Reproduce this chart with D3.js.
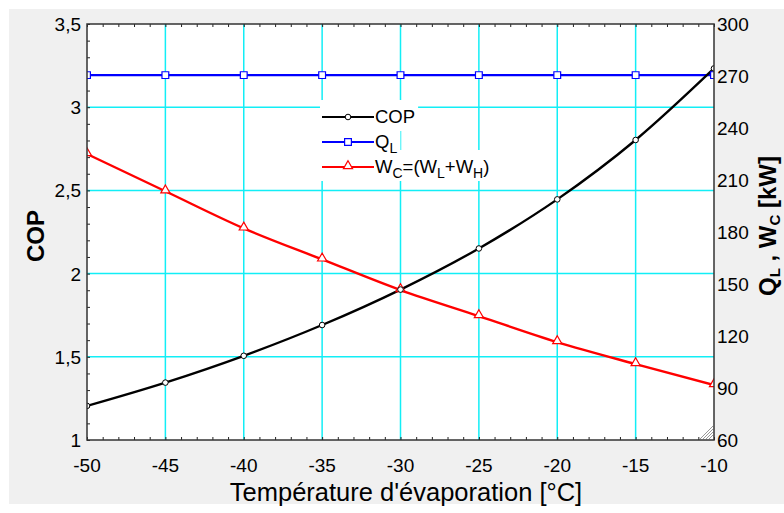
<!DOCTYPE html>
<html>
<head>
<meta charset="utf-8">
<script src="https://cdn.jsdelivr.net/npm/d3@7"></script>
<style>
  body { margin: 0; background: #fff; }
  text { font-family: Arial, "Liberation Sans", sans-serif; fill: #000; }
</style>
</head>
<body>
<div id="canvas"></div>
<script>
// data
var temps = [-50, -45, -40, -35, -30, -25, -20, -15, -10];
var cop = [1.205, 1.345, 1.506, 1.691, 1.904, 2.151, 2.446, 2.803, 3.233];
var qL = [270.5, 270.5, 270.5, 270.5, 270.5, 270.5, 270.5, 270.5, 270.5];
var wC = [225, 203.5, 182.1, 164.2, 146.5, 131.5, 116.5, 103.8, 91.7];

var xTicks = [-50, -45, -40, -35, -30, -25, -20, -15, -10];
var copTicks = [1, 1.5, 2, 2.5, 3, 3.5];
var kwTicks = [60, 90, 120, 150, 180, 210, 240, 270, 300];

var W = 784, H = 513;
var plot = {left: 87, right: 714, top: 24, bottom: 440};

var svg = d3.select("#canvas").append("svg")
  .attr("width", W)
  .attr("height", H);

// grey window background
svg.append("rect")
  .attr("x", 9).attr("y", 9)
  .attr("width", W - 9).attr("height", 495)
  .attr("fill", "#f0f0f0");

svg.append("rect")
  .attr("x", plot.left).attr("y", plot.top)
  .attr("width", plot.right - plot.left)
  .attr("height", plot.bottom - plot.top)
  .attr("fill", "#fff");

var x = d3.scaleLinear().domain([-50, -10]).range([plot.left, plot.right]);
var yL = d3.scaleLinear().domain([1, 3.5]).range([plot.bottom, plot.top]);
var yR = d3.scaleLinear().domain([60, 300]).range([plot.bottom, plot.top]);

var grid = "#12eef6";

// grid lines
svg.append("g").selectAll("line")
  .data(xTicks.slice(1, -1))
  .enter().append("line")
  .attr("x1", d => x(d)).attr("x2", d => x(d))
  .attr("y1", plot.top).attr("y2", plot.bottom)
  .attr("stroke", grid).attr("stroke-width", 1.5);

svg.append("g").selectAll("line")
  .data(copTicks.slice(1, -1))
  .enter().append("line")
  .attr("x1", plot.left).attr("x2", plot.right)
  .attr("y1", d => yL(d)).attr("y2", d => yL(d))
  .attr("stroke", grid).attr("stroke-width", 1.5);

// legend: white boxes hide the grid behind each entry
var legend = [
  {name: "COP", color: "#000", y: 117},
  {name: "QL", color: "#0000ff", y: 142},
  {name: "WC", color: "#ff0000", y: 167}
];

var legendText = function (sel, key) {
  var sub = function (s) {
    sel.append("tspan").attr("dy", 5).attr("font-size", 14).text(s);
  };
  var up = function (s) {
    sel.append("tspan").attr("dy", -5).text(s);
  };
  if (key == "COP") {
    sel.append("tspan").text("COP");
  } else if (key == "QL") {
    sel.append("tspan").text("Q");
    sub("L");
  } else {
    sel.append("tspan").text("W");
    sub("C"); up("=(W"); sub("L"); up("+W"); sub("H"); up(")");
  }
};

var lgBoxes = svg.append("g");
var lg = svg.append("g");

legend.forEach(function (d) {
  lg.append("line")
    .attr("x1", 322).attr("x2", 374)
    .attr("y1", d.y).attr("y2", d.y)
    .attr("stroke", d.color).attr("stroke-width", 2);
  var t = lg.append("text")
    .attr("x", 375).attr("y", d.y + 6)
    .attr("font-size", 18.5);
  legendText(t, d.name);
  var bb = t.node().getBBox();
  lgBoxes.append("rect").attr("fill", "#fff")
    .attr("x", 320).attr("y", d.y - 17)
    .attr("width", bb.x + bb.width - 320 + 3)
    .attr("height", 31);
});

// minor ticks on frame, pointing inward
svg.append("g")
  .attr("transform", "translate(0," + plot.bottom + ")")
  .call(d3.axisBottom(x).tickValues(d3.range(-50, -9, 1)).tickSize(-3).tickFormat(""))
  .call(g => g.select(".domain").remove());
svg.append("g")
  .attr("transform", "translate(0," + plot.top + ")")
  .call(d3.axisTop(x).tickValues(d3.range(-50, -9, 1)).tickSize(-3).tickFormat(""))
  .call(g => g.select(".domain").remove());
svg.append("g")
  .attr("transform", "translate(" + plot.left + ",0)")
  .call(d3.axisLeft(yL).tickValues(d3.range(10, 36).map(v => v / 10)).tickSize(-3).tickFormat(""))
  .call(g => g.select(".domain").remove());
svg.selectAll(".tick line").attr("stroke", "#222");

// curves
svg.append("clipPath").attr("id", "clip")
  .append("rect")
  .attr("x", plot.left).attr("y", plot.top)
  .attr("width", plot.right - plot.left)
  .attr("height", plot.bottom - plot.top);

var pg = svg.append("g").attr("clip-path", "url(#clip)");

var lineCop = d3.line().x((d, i) => x(temps[i])).y(d => yL(d)).curve(d3.curveMonotoneX);
var lineKw = d3.line().x((d, i) => x(temps[i])).y(d => yR(d)).curve(d3.curveMonotoneX);

pg.append("path").attr("d", lineKw(qL)).attr("fill", "none").attr("stroke", "#0000ff").attr("stroke-width", 2.4);
pg.append("path").attr("d", lineKw(wC)).attr("fill", "none").attr("stroke", "#ff0000").attr("stroke-width", 2.4);
pg.append("path").attr("d", lineCop(cop)).attr("fill", "none").attr("stroke", "#000").attr("stroke-width", 2.4);

var square = d3.symbol().type(d3.symbolSquare).size(46);
var tri = d3.symbol().type(d3.symbolTriangle).size(36);

pg.selectAll(".mq").data(qL).enter().append("path")
  .attr("d", square)
  .attr("transform", (d, i) => "translate(" + x(temps[i]) + "," + yR(d) + ")")
  .attr("fill", "#fff").attr("stroke", "#0000ff").attr("stroke-width", 1.2);
pg.selectAll(".mw").data(wC).enter().append("path")
  .attr("d", tri)
  .attr("transform", (d, i) => "translate(" + x(temps[i]) + "," + (yR(d) - 1) + ")")
  .attr("fill", "#fff").attr("stroke", "#ff0000").attr("stroke-width", 1.2);
pg.selectAll(".mc").data(cop).enter().append("circle")
  .attr("cx", (d, i) => x(temps[i])).attr("cy", d => yL(d)).attr("r", 2.8)
  .attr("fill", "#fff").attr("stroke", "#000").attr("stroke-width", 1);

// legend markers
lg.append("circle").attr("cx", 348).attr("cy", 117).attr("r", 2.8)
  .attr("fill", "#fff").attr("stroke", "#000");
lg.append("path").attr("d", square).attr("transform", "translate(348,142)")
  .attr("fill", "#fff").attr("stroke", "#0000ff").attr("stroke-width", 1.2);
lg.append("path").attr("d", tri).attr("transform", "translate(348,166)")
  .attr("fill", "#fff").attr("stroke", "#ff0000").attr("stroke-width", 1.2);

// resize grip
svg.append("g").selectAll("line")
  .data([4, 7, 10, 13])
  .enter().append("line")
  .attr("x1", d => plot.right - 1 - d).attr("y1", plot.bottom - 1)
  .attr("x2", plot.right - 1).attr("y2", d => plot.bottom - 1 - d)
  .attr("stroke", "#999").attr("stroke-width", 1);

// frame
svg.append("rect")
  .attr("x", plot.left).attr("y", plot.top)
  .attr("width", plot.right - plot.left)
  .attr("height", plot.bottom - plot.top)
  .attr("fill", "none").attr("stroke", "#333").attr("stroke-width", 1.5);

// tick labels
svg.append("g").selectAll("text")
  .data(copTicks)
  .enter().append("text")
  .attr("x", 81).attr("y", d => yL(d) + 7)
  .attr("text-anchor", "end")
  .attr("font-size", 19)
  .text(d => String(d).replace(".", ","));

svg.append("g").selectAll("text")
  .data(kwTicks)
  .enter().append("text")
  .attr("x", 717).attr("y", d => yR(d) + 7)
  .attr("font-size", 19)
  .text(d => d);

svg.append("g").selectAll("text")
  .data(xTicks)
  .enter().append("text")
  .attr("x", d => x(d)).attr("y", 472)
  .attr("text-anchor", "middle")
  .attr("font-size", 19)
  .text(d => d);

// axis titles
svg.append("text")
  .attr("x", 406).attr("y", 501)
  .attr("text-anchor", "middle")
  .attr("font-size", 25.5)
  .text("Température d'évaporation [°C]");

svg.append("text")
  .attr("transform", "translate(44,236) rotate(-90)")
  .attr("text-anchor", "middle")
  .attr("font-size", 24)
  .attr("font-weight", "bold")
  .text("COP");

var rt = svg.append("text")
  .attr("transform", "translate(776,226) rotate(-90)")
  .attr("text-anchor", "middle")
  .attr("font-size", 24)
  .attr("font-weight", "bold");
rt.append("tspan").text("Q");
rt.append("tspan").attr("dy", 4).attr("font-size", 15).text("L");
rt.append("tspan").attr("dy", -4).text(" , W");
rt.append("tspan").attr("dy", 4).attr("font-size", 15).text("C");
rt.append("tspan").attr("dy", -4).text(" [kW]");
</script>
</body>
</html>
